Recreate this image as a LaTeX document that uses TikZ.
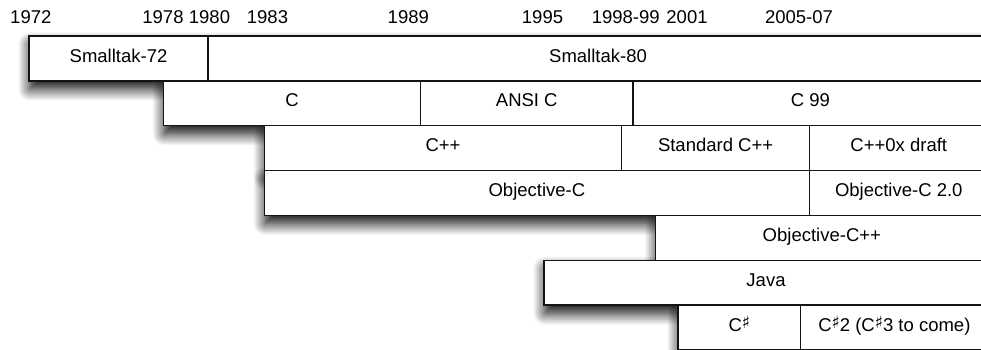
\documentclass[tikz,border=0pt]{standalone}
\usepackage{fontspec}
\setmainfont{Liberation Sans}
\newfontfamily\symfont{DejaVu Sans}
\usetikzlibrary{shadows.blur}
\pgfdeclarelayer{bg}
\pgfsetlayers{bg,main}
\tikzset{
  cell/.style={draw=black!92, line width=1.4pt, fill=white, rectangle, anchor=north west,
    inner sep=0pt, outer sep=0pt, minimum height=44.85pt, text height=0.72em, text depth=0pt,
    font=\fontsize{18.5}{20}\selectfont, text=black},
  year/.style={anchor=base, inner sep=0pt, font=\fontsize{18.5}{20}\selectfont, text=black},
  rowshadow/.style={blur shadow={shadow xshift=1pt, shadow yshift=-8pt,
    shadow blur radius=12pt, shadow opacity=100, shadow blur steps=16}},
}
\newcommand\shp{\raisebox{0.12em}{\symfont\fontsize{17}{17}\selectfont ♯}}
\begin{document}
\begin{tikzpicture}[x=1pt,y=-1pt]
\useasboundingbox (0,0) rectangle (981,349);
% year labels
\node[year] (y1972) at (30.8,23) {1972};
\node[year] (y1978) at (163,23) {1978};
\node[year] (y1980) at (209.5,23) {1980};
\node[year] (y1983) at (267.5,23) {1983};
\node[year] (y1989) at (408.3,23) {1989};
\node[year] (y1995) at (542.5,23) {1995};
\node[year] (y1998) at (625.7,23) {1998-99};
\node[year] (y2001) at (687,23) {2001};
\node[year] (y2005) at (799,23) {2005-07};
% row 1
\node[cell, minimum width=179pt] (st72) at (29,36) {Smalltak-72};
\node[cell, minimum width=780pt] (st80) at (208,36) {Smalltak-80};
% row 2
\node[cell, minimum width=257.4pt] (c) at (163.3,80.85) {C};
\node[cell, minimum width=212.1pt] (ansic) at (420.7,80.85) {ANSI C};
\node[cell, minimum width=355.2pt] (c99) at (632.8,80.85) {C 99};
% row 3
\node[cell, minimum width=357.4pt] (cpp) at (264.3,125.7) {C++};
\node[cell, minimum width=187.8pt] (stdcpp) at (621.7,125.7) {Standard C++};
\node[cell, minimum width=178.5pt] (cpp0x) at (809.5,125.7) {C++0x draft};
% row 4
\node[cell, minimum width=545.2pt] (objc) at (264.3,170.55) {Objective-C};
\node[cell, minimum width=178.5pt] (objc2) at (809.5,170.55) {Objective-C 2.0};
% row 5
\node[cell, minimum width=332.3pt] (objcpp) at (655.7,215.4) {Objective-C++};
% row 6
\node[cell, minimum width=444pt] (java) at (544,260.25) {Java};
% row 7
\node[cell, minimum width=122.7pt] (cs) at (678,305.1) {C\shp};
\node[cell, minimum width=187.3pt] (cs2) at (800.7,305.1) {C\shp2 (C\shp3 to come)};
% shadows
\begin{pgfonlayer}{bg}
\path[rowshadow] (st72.north west) rectangle (st80.south east);
\path[rowshadow] (c.north west) rectangle (c99.south east);
\path[rowshadow] (cpp.north west) rectangle (cpp0x.south east);
\path[rowshadow] (objc.north west) rectangle (objc2.south east);
\path[rowshadow] (objcpp.north west) rectangle (objcpp.south east);
\path[rowshadow] (java.north west) rectangle (java.south east);
\path[rowshadow] (cs.north west) rectangle (cs2.south east);
\end{pgfonlayer}
\end{tikzpicture}
\end{document}
